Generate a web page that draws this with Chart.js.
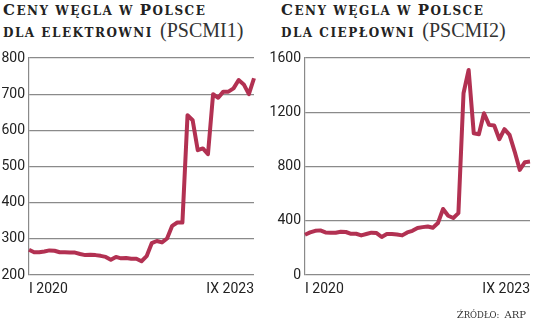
<!DOCTYPE html>
<html>
<head>
<meta charset="utf-8">
<script src="https://cdn.jsdelivr.net/npm/chart.js@4"></script>
<style>
  body { margin: 0; width: 536px; height: 321px; background: #fff; position: relative; overflow: hidden; }
  .title { position: absolute; top: 0; font-family: "DejaVu Serif", serif; color: #222; line-height: 19px; white-space: nowrap; font-weight: bold; letter-spacing: 1.5px; }
  .title .cap { font-size: 15px; }
  .title .sc { font-size: 12px; text-transform: uppercase; }
  .title .code { font-family: "Liberation Serif", serif; font-size: 20px; font-weight: normal; color: #333; letter-spacing: 0; }
  .box { position: absolute; top: 0; width: 268px; height: 321px; }
  #src { position: absolute; right: 10px; top: 303px; font-family: "DejaVu Serif", serif; color: #333; white-space: nowrap; }
  #src .cap { font-size: 10px; }
  #src .sc { font-size: 8.5px; text-transform: uppercase; }
</style>
</head>
<body>
<div class="title" style="left:3px"><span class="cap">C</span><span class="sc">eny węgla w </span><span class="cap">P</span><span class="sc">olsce</span><br><span class="sc">dla elektrowni</span> <span class="code">(PSCMI1)</span></div>
<div class="title" style="left:281px"><span class="cap">C</span><span class="sc">eny węgla w </span><span class="cap">P</span><span class="sc">olsce</span><br><span class="sc">dla ciepłowni</span> <span class="code">(PSCMI2)</span></div>
<div class="box" style="left:0"><canvas id="c1"></canvas></div>
<div class="box" style="left:268px"><canvas id="c2"></canvas></div>
<div id="src"><span class="cap">Ź</span><span class="sc">ródło:</span> <span class="cap">ARP</span></div>
<script>
const romans = ['I','II','III','IV','V','VI','VII','VIII','IX','X','XI','XII'];
const years = [2020, 2021, 2022, 2023];
const months = [];
years.forEach(y => romans.forEach((m, i) => { if (y < 2023 || i < 9) months.push(m + ' ' + y) }));

// PSCMI1 - elektrownie, zł/t
const pscmi1 = [270,263,263,265,268,267,263,263,262,262,
                258,255,256,255,253,250,242,250,246,247,
                245,245,238,252,288,294,290,301,336,345,
                345,642,628,545,550,534,700,690,707,707,
                716,739,727,700,744];
// PSCMI2 - ciepłownie, zł/t
const pscmi2 = [297,314,326,329,314,312,312,319,317,304,
                304,292,302,312,309,280,302,302,299,292,
                314,326,346,353,358,348,383,487,437,420,
                456,1340,1512,1045,1038,1193,1107,1102,1001,1075,
                1033,910,775,832,837];

const lineColor = '#b23152';
const gridColor = '#8a8a8a';
const tickFont = { family: 'Roboto', size: 14 };

function makeChart(id, data, min, max, step, yWidth, padRight) {
  return new Chart(document.getElementById(id), {
    type: 'line',
    data: {
      labels: months,
      datasets: [{
        data,
        borderColor: lineColor,
        borderWidth: 4,
        borderJoinStyle: 'round',
        pointRadius: 0,
        tension: 0
      }]
    },
    options: {
      responsive: true,
      maintainAspectRatio: false,
      animation: false,
      layout: { padding: { top: 58, right: padRight, bottom: 0, left: 0 } },
      plugins: { legend: { display: false }, tooltip: { enabled: false } },
      scales: {
        x: {
          grid: { display: false, drawTicks: false },
          border: { display: false },
          ticks: {
            autoSkip: false, maxRotation: 0, align: 'inner', padding: 6,
            color: '#222', font: tickFont,
            callback: (v, i) => (i === 0 || i === months.length - 1) ? months[i] : ''
          },
          afterFit: s => { s.height = 46 }
        },
        y: {
          min, max,
          grid: { color: gridColor, lineWidth: 1.2, drawTicks: false },
          border: { display: true, color: gridColor, width: 1.2 },
          ticks: { stepSize: step, padding: 4, color: '#222', font: tickFont, callback: v => String(v) },
          afterFit: s => { s.width = yWidth }
        }
      }
    }
  });
}

makeChart('c1', pscmi1, 200, 800, 100, 29, 14);
makeChart('c2', pscmi2, 0, 1600, 400, 37, 6);
</script>
</body>
</html>
